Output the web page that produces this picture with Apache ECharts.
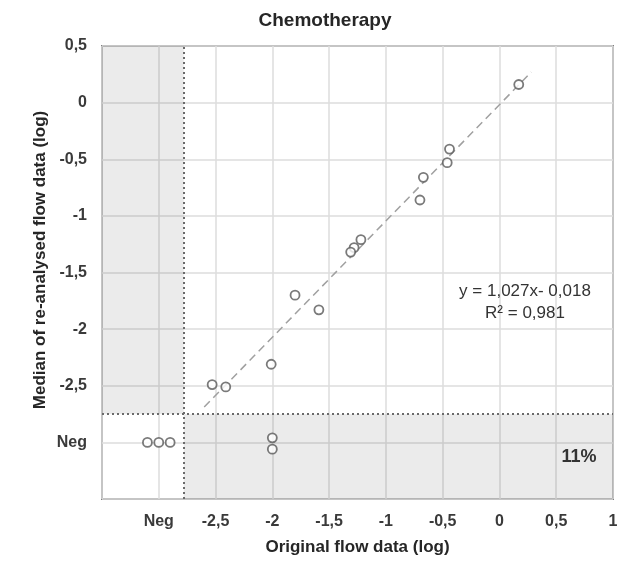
<!DOCTYPE html>
<html>
<head>
<meta charset="utf-8">
<script src="https://cdn.jsdelivr.net/npm/echarts@6/dist/echarts.min.js"></script>
<style>
  html, body { margin: 0; padding: 0; background: #fff; }
  #chart { width: 628px; height: 563px; }
</style>
</head>
<body>
<div id="chart"></div>
<script>
// Original flow value (log) per sample; samples negative in the original data sit at the "Neg" position (-3)
const origFlow   = [0.17, -0.44, -0.46, -0.67, -0.70, -1.22, -1.28, -1.31, -1.80, -1.59, -2.01, -2.53, -2.41, -2.00, -2.00, -3.10, -3.00, -2.90];
// Median of the re-analysed flow data (log); "Neg" results sit at -3
const reanalysed = [0.16, -0.41, -0.53, -0.66, -0.86, -1.21, -1.28, -1.32, -1.70, -1.83, -2.31, -2.49, -2.51, -2.96, -3.06, -3.00, -3.00, -3.00];

// Regression fit and its drawn extent
const slope = 1.027;
const intercept = -0.018;
const rSquared = 0.981;
const fitRange = [-2.6, 0.28];

// Axis settings
const axisMin = -3.5;
const axisMax = [1, 0.5];   // x, y
const tickStep = 0.5;
const negValue = -3;        // tick position labelled "Neg"
const cutX = -2.78;         // boundary between Neg and measured values, x
const cutY = -2.75;         // boundary between Neg and measured values, y
const negShare = '11%';

const comma = v => String(v).replace('.', ',');
const fmt = v => {
  if (Math.abs(v - negValue) < 1e-9) return 'Neg';
  if (Math.abs(v - axisMin) < 1e-9) return '';
  return comma(+v.toFixed(2));
};

const points = origFlow.map((x, i) => [x, reanalysed[i]]);
const fitLine = fitRange.map(x => [x, slope * x + intercept]);

const font = 'Arial, "Liberation Sans", sans-serif';
const chart = echarts.init(document.getElementById('chart'), null, { renderer: 'canvas' });

chart.setOption({
  animation: false,
  backgroundColor: '#ffffff',
  title: {
    text: 'Chemotherapy',
    left: 320,
    top: 6,
    textAlign: 'center',
    textStyle: { fontFamily: font, fontSize: 19, fontWeight: 'bold', color: '#262626' }
  },
  graphic: [{
    type: 'text',
    x: 40,
    y: 260,
    rotation: Math.PI / 2,
    style: {
      text: 'Median of re-analysed flow data (log)',
      fontFamily: font, fontSize: 17, fontWeight: 'bold', fill: '#262626',
      textAlign: 'center', textVerticalAlign: 'middle'
    }
  }],
  grid: {
    left: 102, top: 46, right: 15, bottom: 64,
    show: true, borderColor: '#808080', borderWidth: 2, backgroundColor: 'transparent'
  },
  xAxis: {
    type: 'value',
    min: axisMin, max: axisMax[0], interval: tickStep,
    name: 'Original flow data (log)',
    nameLocation: 'middle', nameGap: 40,
    nameTextStyle: { fontFamily: font, fontSize: 17, fontWeight: 'bold', color: '#262626' },
    axisLine: { show: false },
    axisTick: { show: false },
    axisLabel: { formatter: fmt, margin: 15, fontFamily: font, fontSize: 16, fontWeight: 'bold', color: '#3a3a3a' },
    splitLine: { show: true, lineStyle: { color: '#dcdcdc', width: 1.5 } }
  },
  yAxis: {
    type: 'value',
    min: axisMin, max: axisMax[1], interval: tickStep,
    axisLine: { show: false },
    axisTick: { show: false },
    axisLabel: { formatter: fmt, margin: 15, fontFamily: font, fontSize: 16, fontWeight: 'bold', color: '#3a3a3a' },
    splitLine: { show: true, lineStyle: { color: '#dcdcdc', width: 1.5 } }
  },
  series: [
    {
      // shaded "Neg" zones and the dotted cut-off lines
      type: 'line',
      data: [],
      silent: true,
      markArea: {
        silent: true,
        itemStyle: { color: 'rgba(0,0,0,0.08)' },
        data: [
          [{ coord: [axisMin, cutY] }, { coord: [cutX, axisMax[1]] }],
          [{ coord: [cutX, axisMin] }, { coord: [axisMax[0], cutY] }]
        ]
      },
      markLine: {
        silent: true,
        symbol: ['none', 'none'],
        label: { show: false },
        lineStyle: { type: [2, 3], color: '#6a6a6a', width: 2 },
        data: [{ xAxis: cutX }, { yAxis: cutY }]
      }
    },
    {
      // regression line
      type: 'line',
      data: fitLine,
      symbol: 'none',
      silent: true,
      lineStyle: { color: '#a0a0a0', width: 1.5, type: [8, 5] },
      markPoint: {
        silent: true,
        symbol: 'circle',
        symbolSize: 0,
        data: [
          {
            coord: [0.225, -1.76],
            label: {
              show: true, position: 'inside',
              formatter: 'y = ' + comma(slope) + 'x- ' + comma(Math.abs(intercept)) + '\nR² = ' + comma(rSquared),
              fontFamily: font, fontSize: 17, color: '#333333', lineHeight: 22, align: 'center'
            }
          },
          {
            coord: [0.70, -3.13],
            label: {
              show: true, position: 'inside',
              formatter: negShare,
              fontFamily: font, fontSize: 18, fontWeight: 'bold', color: '#333333'
            }
          }
        ]
      }
    },
    {
      type: 'scatter',
      data: points,
      symbol: 'circle',
      symbolSize: 9,
      itemStyle: { color: '#ffffff', borderColor: '#595959', borderWidth: 1.8 },
      z: 5
    }
  ]
});
</script>
</body>
</html>
